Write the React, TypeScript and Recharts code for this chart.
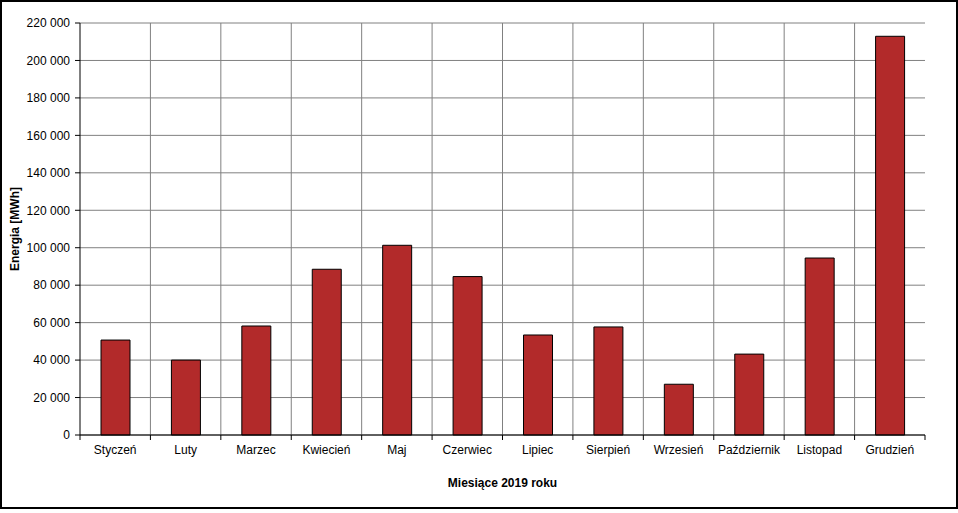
import React from 'react';
import { BarChart, Bar, XAxis, YAxis, CartesianGrid } from 'recharts';

const months = [
  'Styczeń', 'Luty', 'Marzec', 'Kwiecień', 'Maj', 'Czerwiec',
  'Lipiec', 'Sierpień', 'Wrzesień', 'Październik', 'Listopad', 'Grudzień',
];
const energy = [50700, 40000, 58200, 88500, 101300, 84600, 53400, 57700, 27100, 43200, 94500, 212900];
const yTicks = [0, 20000, 40000, 60000, 80000, 100000, 120000, 140000, 160000, 180000, 200000, 220000];

const data = months.map((m, i) => ({ month: m, value: energy[i] }));

const W = 958;
const H = 509;
const M = { top: 23, right: 33, bottom: 14, left: 0 };
const Y_W = 80;
const X_H = 60;
const PLOT_W = W - M.left - M.right - Y_W;
const STEP = PLOT_W / months.length;
const FONT = '"Liberation Sans", Arial, sans-serif';

const fmt = (v: number) => String(v).replace(/\B(?=(\d{3})+(?!\d))/g, ' ');

function MonthTick(props: any) {
  const { x, y, payload, index } = props;
  const axisY = y - 10;
  const left = x - STEP / 2;
  return (
    <g>
      <line x1={left} x2={left} y1={axisY} y2={axisY + 5} stroke="#000" />
      {index === months.length - 1 && (
        <line x1={x + STEP / 2} x2={x + STEP / 2} y1={axisY} y2={axisY + 5} stroke="#000" />
      )}
      <text x={x} y={y} dy="0.71em" textAnchor="middle" fill="#000" fontSize={12} fontFamily={FONT}>
        {payload.value}
      </text>
    </g>
  );
}

export default function App() {
  return (
    <div style={{ position: 'absolute', left: 0, top: 0, width: W, height: H, background: '#fff' }}>
      <BarChart width={W} height={H} data={data} margin={M} barSize={29}>
        <CartesianGrid
          stroke="#808080"
          verticalCoordinatesGenerator={({ offset }: any) =>
            months.slice(1).map((_, i) => offset.left + ((i + 1) * offset.width) / months.length)
          }
        />
        <XAxis
          dataKey="month"
          height={X_H}
          tickSize={5}
          tickMargin={5}
          tickLine={false}
          axisLine={{ stroke: '#000' }}
          interval={0}
          tick={<MonthTick />}
          label={{
            value: 'Miesiące 2019  roku',
            position: 'insideBottom',
            offset: 8,
            style: { fontFamily: FONT, fontSize: 12, fontWeight: 'bold', fill: '#000' },
          }}
        />
        <XAxis
          xAxisId="top"
          orientation="top"
          dataKey="month"
          height={0}
          tick={false}
          tickLine={false}
          axisLine={{ stroke: '#000' }}
        />
        <YAxis
          width={Y_W}
          domain={[0, 220000]}
          ticks={yTicks}
          interval={0}
          tickFormatter={fmt}
          tickSize={5}
          tickMargin={5}
          tickLine={{ stroke: '#000' }}
          axisLine={{ stroke: '#000' }}
          tick={{ fill: '#000', fontSize: 12, fontFamily: FONT }}
          label={{
            value: 'Energia  [MWh]',
            angle: -90,
            position: 'insideLeft',
            offset: 15,
            style: { textAnchor: 'middle', fontFamily: FONT, fontSize: 12, fontWeight: 'bold', fill: '#000' },
          }}
        />
        <YAxis
          yAxisId="right"
          orientation="right"
          width={0}
          domain={[0, 220000]}
          tick={false}
          tickLine={false}
          axisLine={{ stroke: '#000' }}
        />
        <Bar dataKey="value" fill="#B22A2A" stroke="#000" strokeWidth={1} isAnimationActive={false} />
      </BarChart>
      <div
        style={{
          position: 'absolute',
          left: 0,
          top: 0,
          width: W,
          height: H,
          border: '2px solid #000',
          boxSizing: 'border-box',
          pointerEvents: 'none',
        }}
      />
    </div>
  );
}
